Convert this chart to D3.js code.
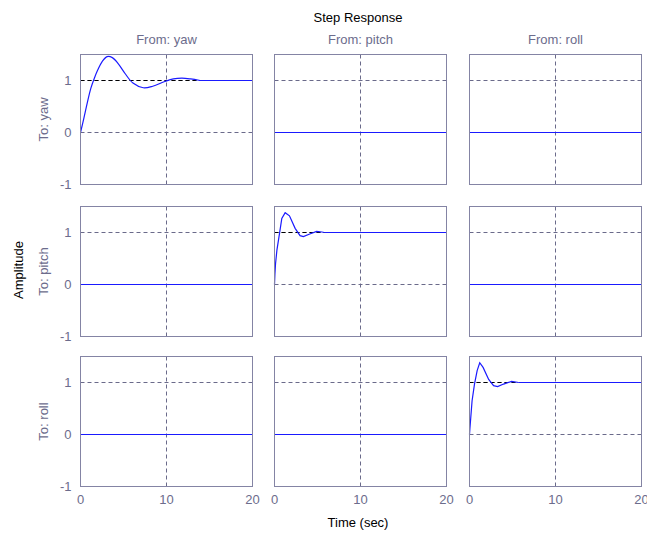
<!DOCTYPE html>
<html>
<head>
<meta charset="utf-8">
<script src="https://cdn.jsdelivr.net/npm/d3@7"></script>
<style>
  body { margin: 0; background: #fff; }
  svg text { font-family: "Liberation Sans", Arial, sans-serif; font-size: 13px; }
</style>
</head>
<body>
<svg id="chart" width="647" height="534"></svg>
<script>
var INPUTS = ["yaw", "pitch", "roll"];
var OUTPUTS = ["yaw", "pitch", "roll"];
var X_TICKS = [0, 10, 20];
var Y_TICKS = [-1, 0, 1];

// yaw -> yaw
var YAW_T = [0, 0.4, 0.8, 1.2, 1.6, 2.0, 2.5, 3.1, 3.7, 4.4, 5.2, 6.1, 7.3, 8.4, 9.8, 10.8, 11.8, 12.8, 13.9];
var YAW_Y = [0, 0.28, 0.58, 0.85, 1.04, 1.2, 1.36, 1.46, 1.44, 1.32, 1.13, 0.95, 0.86, 0.89, 0.98, 1.03, 1.045, 1.03, 1.0];
// pitch -> pitch
var PITCH_T = [0, 0.05, 0.12, 0.28, 0.58, 0.85, 1.24, 1.74, 2.4, 2.97, 3.36, 4.1, 4.9, 5.5, 5.8];
var PITCH_Y = [0, 0.2, 0.4, 0.66, 0.98, 1.27, 1.38, 1.32, 1.08, 0.94, 0.92, 0.97, 1.02, 1.01, 1.0];
// roll -> roll
var ROLL_T = [0, 0.05, 0.12, 0.3, 0.58, 0.89, 1.19, 1.58, 2.23, 2.8, 3.27, 3.96, 4.9, 5.7];
var ROLL_Y = [0, 0.12, 0.27, 0.65, 0.97, 1.23, 1.38, 1.29, 1.06, 0.94, 0.92, 0.97, 1.02, 1.0];
// cross channels stay at zero
var ZERO_T = [0, 20];
var ZERO_Y = [0, 0];
var FINAL_VALUE = [1, 1, 1];

var svg = d3.select("#chart");

var COL_X = [80.5, 274.5, 469.5], PANEL_W = 172;
var ROW_Y = [54.5, 206.5, 356.5], PANEL_H = 130;
var BOX = "#8484a4", GRID = "#6a6a8a", LABEL = "#6c6c8c", BLUE = "#1a1aff";

var responses = {
  "0,0": { t: YAW_T, y: YAW_Y, curve: d3.curveCatmullRom },
  "1,1": { t: PITCH_T, y: PITCH_Y, curve: d3.curveLinear },
  "2,2": { t: ROLL_T, y: ROLL_Y, curve: d3.curveLinear }
};

for (var r = 0; r < OUTPUTS.length; r++) {
  for (var c = 0; c < INPUTS.length; c++) {
    drawPanel(r, c);
  }
}

function drawPanel(r, c) {
  var x = d3.scaleLinear().domain([0, 20]).range([COL_X[c], COL_X[c] + PANEL_W]);
  var y = d3.scaleLinear().domain([-1, 1.5]).range([ROW_Y[r] + PANEL_H, ROW_Y[r]]);
  var g = svg.append("g");

  // grid
  g.selectAll(".vgrid").data([10]).enter().append("line")
    .attr("x1", function(d) { return x(d); }).attr("x2", function(d) { return x(d); })
    .attr("y1", y.range()[1]).attr("y2", y.range()[0])
    .attr("stroke", GRID).attr("stroke-dasharray", "4,3");
  g.selectAll(".hgrid").data([0, 1]).enter().append("line")
    .attr("x1", x.range()[0]).attr("x2", x.range()[1])
    .attr("y1", function(d) { return y(d); }).attr("y2", function(d) { return y(d); })
    .attr("stroke", GRID).attr("stroke-dasharray", "4,3");

  var resp = responses[r + "," + c];
  var series, tEnd = 20;
  if (resp) {
    tEnd = resp.t[resp.t.length - 1];
    // steady state marker
    g.append("line")
      .attr("x1", x(0)).attr("x2", x(tEnd))
      .attr("y1", y(FINAL_VALUE[r])).attr("y2", y(FINAL_VALUE[r]))
      .attr("stroke", "#000").attr("stroke-dasharray", "4,3");
    series = d3.zip(resp.t, resp.y);
  } else {
    series = d3.zip(ZERO_T, ZERO_Y);
  }

  var line = d3.line()
    .x(function(d) { return x(d[0]); })
    .y(function(d) { return y(d[1]); })
    .curve(resp ? resp.curve : d3.curveLinear);

  g.append("path")
    .datum(series)
    .attr("d", line)
    .attr("fill", "none").attr("stroke", BLUE).attr("stroke-width", 1.2);
  if (resp) {
    g.append("line")
      .attr("x1", x(tEnd)).attr("x2", x(20))
      .attr("y1", y(FINAL_VALUE[r])).attr("y2", y(FINAL_VALUE[r]))
      .attr("stroke", BLUE).attr("stroke-width", 1.2);
  }

  // box
  g.append("rect")
    .attr("x", x.range()[0]).attr("y", y.range()[1])
    .attr("width", PANEL_W).attr("height", PANEL_H)
    .attr("fill", "none").attr("stroke", BOX);

  // y tick labels on first column
  if (c === 0) {
    g.selectAll(".ytick").data(Y_TICKS).enter().append("text")
      .attr("x", x.range()[0] - 9)
      .attr("y", function(d) { return y(d); })
      .attr("dy", "0.35em")
      .attr("text-anchor", "end")
      .attr("fill", LABEL)
      .text(function(d) { return d; });
    g.append("text")
      .attr("transform", "translate(48," + (ROW_Y[r] + PANEL_H / 2) + ") rotate(-90)")
      .attr("text-anchor", "middle")
      .attr("fill", LABEL)
      .text("To: " + OUTPUTS[r]);
  }
  // x tick labels on last row
  if (r === OUTPUTS.length - 1) {
    g.selectAll(".xtick").data(X_TICKS).enter().append("text")
      .attr("x", function(d) { return x(d); })
      .attr("y", y.range()[0] + 17)
      .attr("text-anchor", "middle")
      .attr("fill", LABEL)
      .text(function(d) { return d; });
  }
  // column headers
  if (r === 0) {
    g.append("text")
      .attr("x", (x.range()[0] + x.range()[1]) / 2)
      .attr("y", 44)
      .attr("text-anchor", "middle")
      .attr("fill", LABEL)
      .text("From: " + INPUTS[c]);
  }
}

svg.append("text")
  .attr("x", 358).attr("y", 22)
  .attr("text-anchor", "middle")
  .attr("fill", "#000")
  .text("Step Response");

svg.append("text")
  .attr("x", 358).attr("y", 527)
  .attr("text-anchor", "middle")
  .attr("fill", "#000")
  .text("Time (sec)");

svg.append("text")
  .attr("transform", "translate(23,270) rotate(-90)")
  .attr("text-anchor", "middle")
  .attr("fill", "#000")
  .text("Amplitude");
</script>
</body>
</html>
